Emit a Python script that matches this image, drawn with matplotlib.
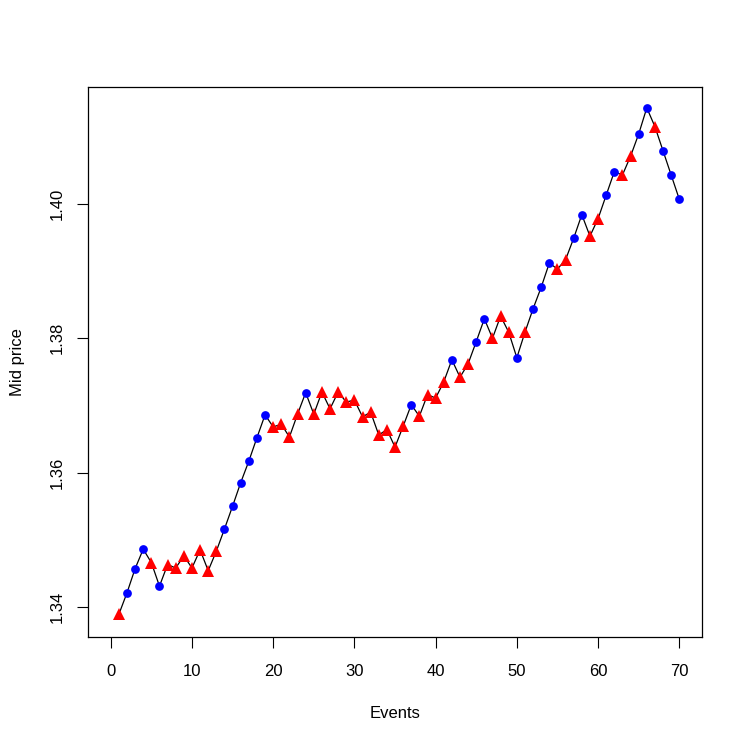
import numpy as np
import matplotlib
matplotlib.use('Agg')
import matplotlib.pyplot as plt

plt.rcParams['font.family'] = ['Liberation Sans', 'DejaVu Sans']
plt.rcParams['font.size'] = 12

# Dados: preço médio por evento e tipo de evento (c = círculo azul, t = triângulo vermelho)
events = np.arange(1, 71)
mid_price = [
    1.3389, 1.3421, 1.3457, 1.3486, 1.3466, 1.3431, 1.3463, 1.3458, 1.3476, 1.3458,
    1.3485, 1.3454, 1.3483, 1.3516, 1.3550, 1.3585, 1.3617, 1.3652, 1.3686, 1.3668,
    1.3672, 1.3653, 1.3687, 1.3719, 1.3687, 1.3720, 1.3695, 1.3720, 1.3705, 1.3708,
    1.3683, 1.3690, 1.3656, 1.3664, 1.3638, 1.3669, 1.3701, 1.3684, 1.3716, 1.3711,
    1.3735, 1.3768, 1.3742, 1.3762, 1.3795, 1.3829, 1.3800, 1.3833, 1.3809, 1.3771,
    1.3809, 1.3844, 1.3876, 1.3912, 1.3903, 1.3917, 1.3949, 1.3984, 1.3952, 1.3978,
    1.4013, 1.4048, 1.4043, 1.4071, 1.4104, 1.4143, 1.4115, 1.4079, 1.4043, 1.4007,
]
event_type = list(
    "tccctcttttttt"      # 1-13
    "cccccc"             # 14-19
    "tttt" "c"           # 20-24
    "tttttttttttt"       # 25-36
    "c" "tttt" "c"       # 37-42
    "tt" "cc" "ttt" "c"  # 43-50
    "t" "ccc" "tt" "cc"  # 51-58
    "tt" "cc" "tt" "cc"  # 59-66
    "t" "ccc"            # 67-70
)

fig = plt.figure(figsize=(7.47, 7.47), dpi=100)
ax = fig.add_axes([0.1178, 0.1473, 0.8220, 0.7362])

price = np.array(mid_price)
tipo = np.array(event_type)

ax.plot(events, price, color='black', lw=0.9, zorder=1)
circ = tipo == 'c'
tri = tipo == 't'
ax.plot(events[circ], price[circ], 'o', color='#0000FF', ms=6.3, mew=0, zorder=2)
ax.plot(events[tri], price[tri], '^', color='#FF0000', ms=8.0, mew=0, zorder=2)

ax.set_xlim(-2.8, 72.8)
ax.set_ylim(1.33553, 1.4174)
ax.set_xticks([0, 10, 20, 30, 40, 50, 60, 70])
ax.set_yticks([1.34, 1.36, 1.38, 1.40])
ax.set_yticklabels(['1.34', '1.36', '1.38', '1.40'], rotation=90, va='center')

ax.tick_params(direction='out', length=7.7, width=0.8)
ax.tick_params(axis='x', pad=11.5)
ax.tick_params(axis='y', pad=9)
for s in ax.spines.values():
    s.set_linewidth(0.9)

ax.set_xlabel('Events', labelpad=20)
ax.set_ylabel('Mid price', labelpad=18)

fig.savefig('out.png', dpi=100)
